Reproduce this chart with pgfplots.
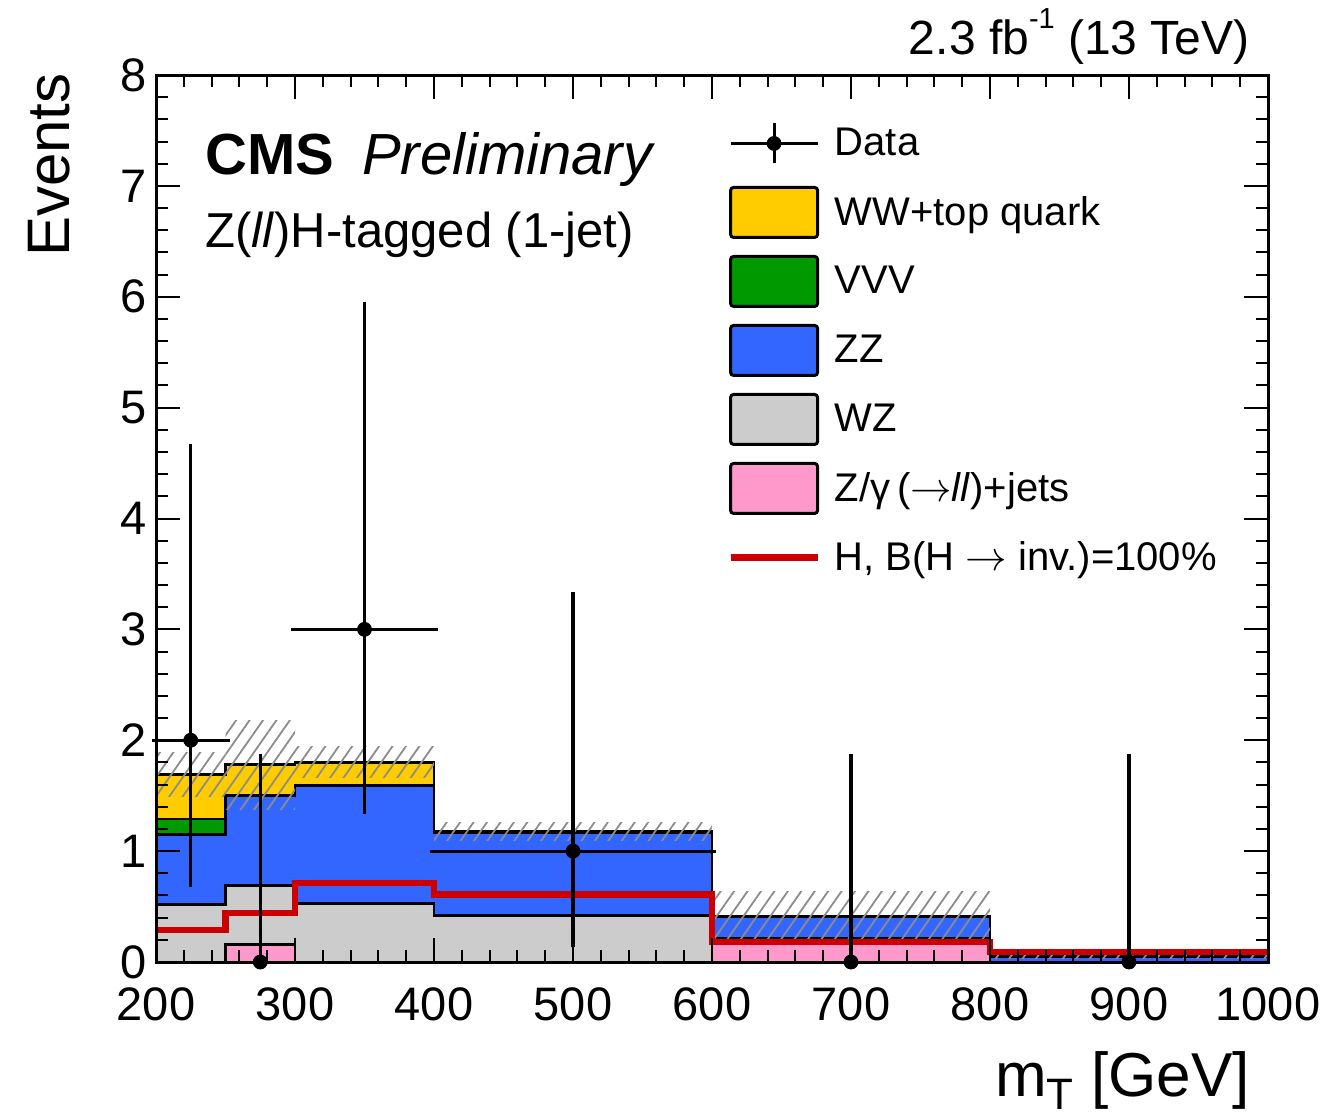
\documentclass[border=0pt]{standalone}
\usepackage{fontspec}
\setmainfont{Liberation Sans}
\usepackage{pgfplots}
\pgfplotsset{compat=1.18}
\usepackage{pgfplotstable}
\usetikzlibrary{patterns.meta}

\definecolor{cWW}{RGB}{255,204,0}
\definecolor{cVVV}{RGB}{0,153,0}
\definecolor{cZZ}{RGB}{51,102,255}
\definecolor{cWZ}{RGB}{204,204,204}
\definecolor{cDY}{RGB}{255,153,204}
\definecolor{cSig}{RGB}{204,0,0}

% cumulative stack heights per bin (lower bin edge in x)
\pgfplotstableread{
x    dy   wz   zz   vvv  ww
200  0.00 0.52 1.15 1.29 1.69
250  0.16 0.69 1.50 1.50 1.78
300  0.00 0.53 1.59 1.59 1.80
400  0.00 0.42 1.17 1.17 1.18
600  0.21 0.21 0.41 0.41 0.41
800  0.00 0.00 0.05 0.05 0.05
1000 0.00 0.00 0.05 0.05 0.05
}\stacktops

% signal H -> invisible
\pgfplotstableread{
x    y
200  0.29
250  0.44
300  0.71
400  0.61
600  0.18
800  0.09
1000 0.09
}\signal

% observed events with asymmetric Poisson errors
\pgfplotstableread{
x    y  ex   ep    em
225  2  25   2.64  1.29
275  0  0    1.84  0
350  3  50   2.92  1.63
500  1  100  2.30  0.83
700  0  0    1.84  0
900  0  0    1.84  0
}\obs

\tikzset{bkgband/.style={draw=none, pattern={Lines[angle=55,distance=5.5pt,line width=0.9pt]}, pattern color=black!45}}

\begin{document}
\begin{tikzpicture}
\useasboundingbox (-78pt,-76.5pt) rectangle (588pt,481pt);
\begin{axis}[
  at={(0pt,0pt)}, anchor=south west,
  scale only axis, width=556pt, height=443.5pt,
  xmin=200, xmax=1000, ymin=0, ymax=8,
  xtick={200,300,...,1000}, ytick={0,1,...,8},
  minor x tick num=4, minor y tick num=4,
  tick align=inside, tick pos=both,
  major tick length=12pt, minor tick length=6pt,
  tick style={black, line width=1pt},
  axis line style={line width=1.5pt},
  /pgf/number format/assume math mode=true,
  /pgf/number format/1000 sep={},
  ticklabel style={font=\fontsize{23.5}{28}\selectfont, inner sep=0pt},
  xticklabel style={yshift=-12.5pt},
  yticklabel style={xshift=-4.5pt},
  clip=false, axis on top,
  legend cell align=left,
  legend style={at={(rel axis cs:0.5135,0.9622)}, anchor=north west,
    draw=none, fill=none, inner sep=0pt, row sep=0pt, column sep=7pt,
    nodes={inner sep=0pt}, font=\fontsize{20}{24}\selectfont},
]
% background stack, drawn from the highest cumulative sum down
\addplot[forget plot, const plot, fill=cWW, draw=black, line width=1.4pt] table[x=x,y=ww]{\stacktops} \closedcycle;
\addplot[forget plot, const plot, fill=cVVV, draw=black, line width=1.4pt] table[x=x,y=vvv]{\stacktops} \closedcycle;
\addplot[forget plot, const plot, fill=cZZ, draw=black, line width=1.4pt] table[x=x,y=zz]{\stacktops} \closedcycle;
\addplot[forget plot, const plot, fill=cWZ, draw=black, line width=1.4pt] table[x=x,y=wz]{\stacktops} \closedcycle;
\addplot[forget plot, const plot, fill=cDY, draw=black, line width=1.4pt] table[x=x,y=dy]{\stacktops} \closedcycle;

% background uncertainty band
\addplot[forget plot, bkgband] coordinates {(200,1.49) (250,1.49) (250,1.89) (200,1.89)} -- cycle;
\addplot[forget plot, bkgband] coordinates {(250,1.38) (300,1.38) (300,2.18) (250,2.18)} -- cycle;
\addplot[forget plot, bkgband] coordinates {(300,1.66) (400,1.66) (400,1.94) (300,1.94)} -- cycle;
\addplot[forget plot, bkgband] coordinates {(400,1.10) (600,1.10) (600,1.26) (400,1.26)} -- cycle;
\addplot[forget plot, bkgband] coordinates {(600,0.18) (800,0.18) (800,0.64) (600,0.64)} -- cycle;
\addplot[forget plot, bkgband] coordinates {(800,0.03) (1000,0.03) (1000,0.07) (800,0.07)} -- cycle;

% signal
\addplot[forget plot, const plot, color=cSig, line width=3.2pt] table[x=x,y=y]{\signal};

% data
\addplot[forget plot, only marks, mark=*, mark size=3.5pt, black,
  error bars/.cd, x dir=both, x explicit, y dir=both, y explicit,
  error bar style={line width=1.6pt, black},
  error mark options={line width=1.6pt, mark size=2pt, black}]
  table[x=x, y=y, x error=ex, y error plus=ep, y error minus=em]{\obs};

% legend
\addlegendimage{legend image code/.code={
  \path[draw=none, fill=none] (0pt,-17.25pt) (43.5pt,17.25pt);
  \draw[black, line width=1.5pt] (0pt,0pt) -- (43.5pt,0pt);
  \draw[black, line width=1.5pt] (21.75pt,-10pt) -- (21.75pt,10pt);
  \fill[black] (21.75pt,0pt) circle[radius=3.5pt];}}
\addlegendentry{Data}
\addlegendimage{legend image code/.code={
  \path[draw=none, fill=none] (0pt,-17.25pt) (43.5pt,17.25pt);
  \draw[draw=black, fill=cWW, line width=1.5pt, rounded corners=1.5pt] (0pt,-12.5pt) rectangle (43.5pt,12.5pt);}}
\addlegendentry{WW+top quark}
\addlegendimage{legend image code/.code={
  \path[draw=none, fill=none] (0pt,-17.25pt) (43.5pt,17.25pt);
  \draw[draw=black, fill=cVVV, line width=1.5pt, rounded corners=1.5pt] (0pt,-12.5pt) rectangle (43.5pt,12.5pt);}}
\addlegendentry{VVV}
\addlegendimage{legend image code/.code={
  \path[draw=none, fill=none] (0pt,-17.25pt) (43.5pt,17.25pt);
  \draw[draw=black, fill=cZZ, line width=1.5pt, rounded corners=1.5pt] (0pt,-12.5pt) rectangle (43.5pt,12.5pt);}}
\addlegendentry{ZZ}
\addlegendimage{legend image code/.code={
  \path[draw=none, fill=none] (0pt,-17.25pt) (43.5pt,17.25pt);
  \draw[draw=black, fill=cWZ, line width=1.5pt, rounded corners=1.5pt] (0pt,-12.5pt) rectangle (43.5pt,12.5pt);}}
\addlegendentry{WZ}
\addlegendimage{legend image code/.code={
  \path[draw=none, fill=none] (0pt,-17.25pt) (43.5pt,17.25pt);
  \draw[draw=black, fill=cDY, line width=1.5pt, rounded corners=1.5pt] (0pt,-12.5pt) rectangle (43.5pt,12.5pt);}}
\addlegendentry{Z/γ\,($\rightarrow$\textit{ll})+jets}
\addlegendimage{legend image code/.code={
  \path[draw=none, fill=none] (0pt,-17.25pt) (43.5pt,17.25pt);
  \draw[cSig, line width=3.2pt] (0pt,0pt) -- (43.5pt,0pt);}}
\addlegendentry{H, B(H $\rightarrow$ inv.)=100\%}
\end{axis}

% labels and annotations
\node[anchor=base east, inner sep=0pt, font=\fontsize{24}{28}\selectfont] at (547pt,453.5pt)
  {2.3 fb\raisebox{13pt}{\fontsize{14.5}{15}\selectfont -1} (13 TeV)};
\node[anchor=base west, inner sep=0pt] at (24.5pt,393.5pt)
  {\fontsize{29}{34}\selectfont\bfseries CMS\hspace{14pt}\mdseries\itshape Preliminary};
\node[anchor=base west, inner sep=0pt, font=\fontsize{24.5}{29}\selectfont] at (24.5pt,357pt)
  {Z(\textit{ll})H-tagged (1-jet)};
\node[rotate=90, anchor=base east, inner sep=0pt, font=\fontsize{30}{36}\selectfont] at (-43pt,444.5pt)
  {Events};
\node[anchor=base east, inner sep=0pt, font=\fontsize{31}{36}\selectfont] at (547pt,-67pt)
  {m\raisebox{-6.5pt}{\fontsize{22}{22}\selectfont T} [GeV]};
\end{tikzpicture}
\end{document}
